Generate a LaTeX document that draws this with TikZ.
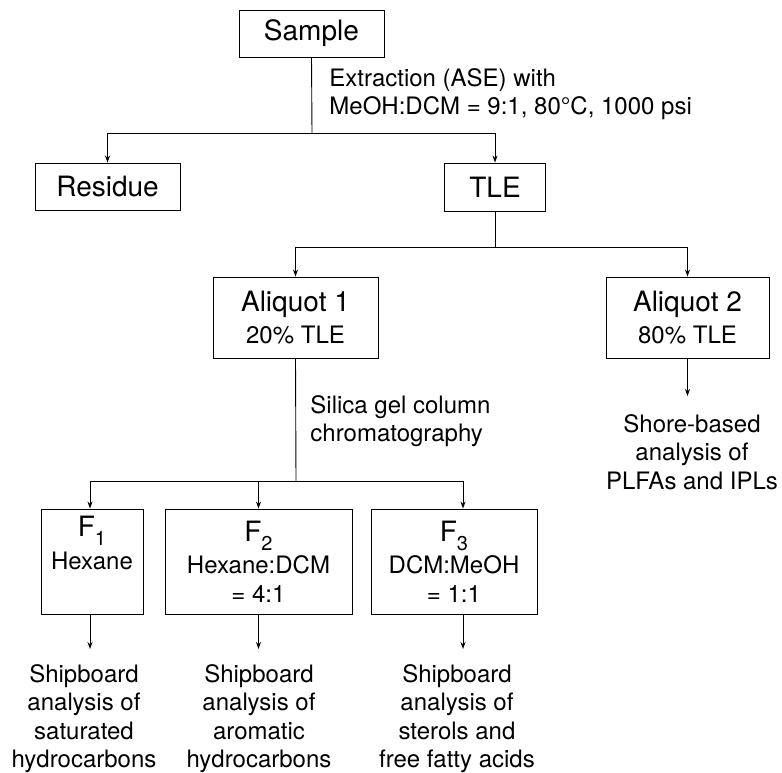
\documentclass[tikz,border=0pt]{standalone}
\usepackage{fontspec}
\setmainfont{TeX Gyre Heros}
\usetikzlibrary{arrows.meta}
\newcommand{\fbig}{\fontsize{28}{32}\selectfont}
\newcommand{\fsmall}{\fontsize{24}{28.5}\selectfont}
\newcommand{\fsub}[1]{\raisebox{-9pt}{\fontsize{20}{20}\selectfont #1}}
\begin{document}
\begin{tikzpicture}[x=1pt,y=-1pt,line width=0.9pt,
  box/.style={draw,inner sep=0pt,align=center},
  lbl/.style={inner sep=0pt,align=center,font=\fsmall},
  arr/.style={-{Stealth[length=7pt,width=5pt]}}]
\useasboundingbox (0,0) rectangle (782,772);

% boxes
\node[box,minimum width=145pt,minimum height=47pt,font=\fbig] (sample) at (311.5,33.5) {Sample};
\node[box,minimum width=145pt,minimum height=47pt,font=\fbig] (residue) at (107.5,186.5) {Residue};
\node[box,minimum width=101pt,minimum height=48pt,font=\fbig] (tle) at (495,187) {TLE};
\node[box,minimum width=165pt,minimum height=81pt,font=\fsmall] (aliq1) at (295.5,317.5) {{\fbig Aliquot 1}\\[4pt]20\% TLE};
\node[box,minimum width=163pt,minimum height=81pt,font=\fsmall] (aliq2) at (687.5,317.5) {{\fbig Aliquot 2}\\[4pt]80\% TLE};
\node[box,minimum width=102pt,minimum height=105pt,font=\fsmall] (f1) at (92,561.5) {{\fbig F\fsub{1}}\\[4pt]Hexane\\\strut};
\node[box,minimum width=187pt,minimum height=105pt,font=\fsmall] (f2) at (258.5,561.5) {{\fbig F\fsub{2}}\\[4pt]Hexane:DCM\\= 4:1};
\node[box,minimum width=166pt,minimum height=105pt,font=\fsmall] (f3) at (454,561.5) {{\fbig F\fsub{3}}\\[4pt]DCM:MeOH\\= 1:1};

% labels
\node[lbl,anchor=west,align=left] (extract) at (329,94) {Extraction (ASE) with\\MeOH:DCM = 9:1, 80°C, 1000 psi};
\node[lbl,anchor=west,align=left] (silica) at (310,421) {Silica gel column\\chromatography};
\node[lbl,anchor=north] (shore) at (692,414) {Shore-based\\analysis of\\PLFAs and IPLs};
\node[lbl,anchor=north] (out1) at (84,664) {Shipboard\\analysis of\\saturated\\hydrocarbons};
\node[lbl,anchor=north] (out2) at (259,664) {Shipboard\\analysis of\\aromatic\\hydrocarbons};
\node[lbl,anchor=north] (out3) at (457,664) {Shipboard\\analysis of\\sterols and\\free fatty acids};

% junctions
\coordinate (j1) at (312,133);
\coordinate (j2) at (495,247);
\coordinate (j3) at (296,481);

% connectors
\draw (sample.south) -- (j1);
\draw[arr] (j1) -| (residue.north);
\draw[arr] (j1) -| (tle.north);
\draw (tle.south) -- (j2);
\draw[arr] (j2) -| (aliq1.north);
\draw[arr] (j2) -| (aliq2.north);
\draw[arr,shorten >=18pt] (aliq2.south) -- (aliq2.south |- shore.north);
\draw (aliq1.south) -- (j3);
\draw[arr] (j3) -| ([xshift=-2pt]f1.north);
\draw[arr] (j3) -| (f2.north);
\draw[arr] (j3) -| ([xshift=9pt]f3.north);
\draw[arr,shorten >=15pt] ([xshift=-2pt]f1.south) -- ([xshift=-2pt]f1.south |- out1.north);
\draw[arr,shorten >=15pt] (f2.south) -- (f2.south |- out2.north);
\draw[arr,shorten >=15pt] ([xshift=9pt]f3.south) -- ([xshift=9pt]f3.south |- out3.north);
\end{tikzpicture}
\end{document}
